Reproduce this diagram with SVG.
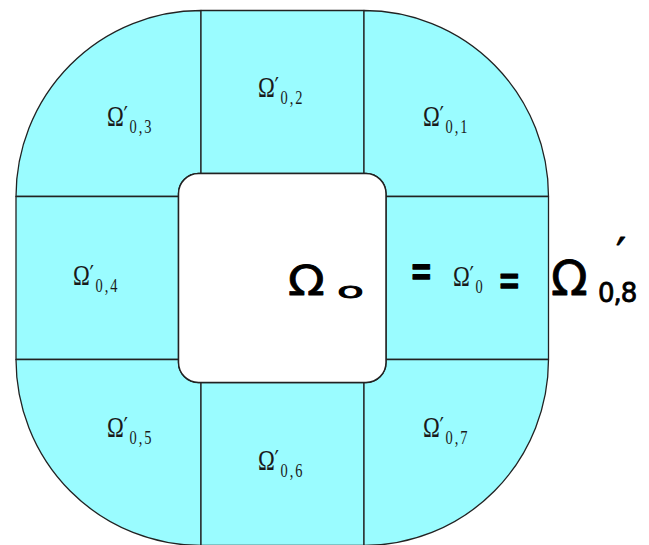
<svg xmlns="http://www.w3.org/2000/svg" width="649" height="545" viewBox="0 0 649 545">
<style>
.reg{fill:#9afcff;stroke:#222;stroke-width:1.3;stroke-linejoin:round}
.hole{fill:#fff;stroke:#222;stroke-width:1.5}
.om{font-family:"Liberation Serif","DejaVu Serif",serif;font-size:29px;fill:#1a1a1a}
.pr{font-family:"DejaVu Sans",sans-serif;font-size:25px;fill:#1a1a1a}
.sub{font-family:"Liberation Serif","DejaVu Serif",serif;font-size:18.5px;letter-spacing:2.5px;fill:#1a1a1a}
.hw{font-family:"DejaVu Sans",sans-serif;fill:#000;stroke:#000;stroke-width:0.8;stroke-linejoin:round;stroke-linecap:round}
</style>
<rect width="649" height="545" fill="#fff"/>
<g id="region-0-3"><path class="reg" d="M16 196.5 A185 186 0 0 1 201 10.5 L201 173.5 L198.5 173.5 A20 20 0 0 0 178.5 193.5 L178.5 196.5 Z"/></g>
<g id="region-0-2"><path class="reg" d="M201 10.5 H364 V173.5 H201 Z"/></g>
<g id="region-0-1"><path class="reg" d="M364 10.5 A184.5 186 0 0 1 548.5 196.5 L386 196.5 L386 193.5 A20 20 0 0 0 366 173.5 L364 173.5 Z"/></g>
<g id="region-0-4"><path class="reg" d="M16 196.5 H178.5 V359.5 H16 Z"/></g>
<g id="region-0-8"><path class="reg" d="M386 196.5 H548.5 V359.5 H386 Z"/></g>
<g id="region-0-5"><path class="reg" d="M16 359.5 L178.5 359.5 L178.5 362.5 A20 20 0 0 0 198.5 382.5 L201 382.5 L201 545.5 A185 186 0 0 1 16 359.5 Z"/></g>
<g id="region-0-6"><path class="reg" d="M201 382.5 H364 V545.5 H201 Z"/></g>
<g id="region-0-7"><path class="reg" d="M364 382.5 L366 382.5 A20 20 0 0 0 386 362.5 L386 359.5 L548.5 359.5 A184.5 186 0 0 1 364 545.5 Z"/></g>
<g id="omega-0"><rect class="hole" x="178.5" y="173.5" width="207.5" height="209" rx="20" ry="20"/></g>
<g id="labels">
<g transform="translate(107,126) scale(0.78,1)"><text class="om" x="0" y="0">Ω<tspan class="pr" x="21" y="-2">′</tspan><tspan class="sub" x="29" y="7">0,3</tspan></text></g>
<g transform="translate(258,97) scale(0.78,1)"><text class="om" x="0" y="0">Ω<tspan class="pr" x="21" y="-2">′</tspan><tspan class="sub" x="29" y="7">0,2</tspan></text></g>
<g transform="translate(423,126) scale(0.78,1)"><text class="om" x="0" y="0">Ω<tspan class="pr" x="21" y="-2">′</tspan><tspan class="sub" x="29" y="7">0,1</tspan></text></g>
<g transform="translate(73,285) scale(0.78,1)"><text class="om" x="0" y="0">Ω<tspan class="pr" x="21" y="-2">′</tspan><tspan class="sub" x="29" y="7">0,4</tspan></text></g>
<g transform="translate(453,286) scale(0.78,1)"><text class="om" x="0" y="0">Ω<tspan class="pr" x="21" y="-2">′</tspan><tspan class="sub" x="29" y="7">0</tspan></text></g>
<g transform="translate(107,437) scale(0.78,1)"><text class="om" x="0" y="0">Ω<tspan class="pr" x="21" y="-2">′</tspan><tspan class="sub" x="29" y="7">0,5</tspan></text></g>
<g transform="translate(258,470) scale(0.78,1)"><text class="om" x="0" y="0">Ω<tspan class="pr" x="21" y="-2">′</tspan><tspan class="sub" x="29" y="7">0,6</tspan></text></g>
<g transform="translate(423,437) scale(0.78,1)"><text class="om" x="0" y="0">Ω<tspan class="pr" x="21" y="-2">′</tspan><tspan class="sub" x="29" y="7">0,7</tspan></text></g>
</g>
<g id="handwriting">
<g transform="translate(288,295) scale(1.2,1)"><text class="hw" x="0" y="0" font-size="40">Ω</text></g>
<g transform="translate(337,298) scale(2,1)"><text class="hw" x="0" y="0" font-size="22">o</text></g>
<g transform="translate(410,288) scale(0.9,1.7)"><text class="hw" x="0" y="0" font-size="30">=</text></g>
<g transform="translate(498,296) scale(0.9,1.6)"><text class="hw" x="0" y="0" font-size="30">=</text></g>
<text class="hw" x="551" y="295" font-size="48">Ω</text>
<text class="hw" x="616" y="270" font-size="44">′</text>
<text class="hw" x="598" y="302" font-size="26" letter-spacing="-1">0,8</text>
</g>
</svg>
